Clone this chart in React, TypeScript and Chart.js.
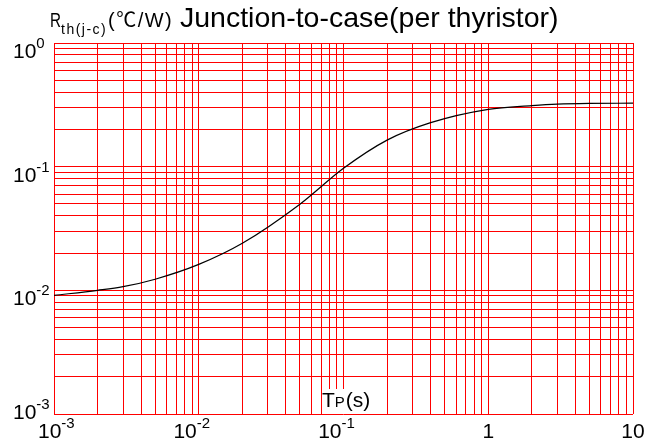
import React, { useEffect, useRef } from "react";
import { Chart, registerables } from "chart.js";
Chart.register(...registerables);

// ---- data ----
const tpSeconds = [0.001, 0.002, 0.003, 0.005, 0.01, 0.02, 0.05, 0.1, 0.2, 0.4, 1, 2, 3, 5, 10];
const rthValues = [0.0091, 0.0100, 0.0107, 0.0123, 0.0162, 0.024, 0.0497, 0.097, 0.164, 0.227, 0.291, 0.312, 0.321, 0.325, 0.326];

const xTickValues = [0.001, 0.01, 0.1, 1, 10];
const xTickBases = ["10", "10", "10", "1", "10"];
const xTickExps = ["-3", "-2", "-1", "", ""];

const yTickValues = [1, 0.1, 0.01, 0.001];
const yTickBases = ["10", "10", "10", "10"];
const yTickExps = ["0", "-1", "-2", "-3"];

const gridMultipliers = [1, 2, 3, 4, 5, 6, 7, 8, 9];

const titleSymbol = "R";
const titleSub = "th(j-c)";
const titleUnit = "(\u2103/W)";
const titleMain = "Junction-to-case(per thyristor)";
const xAxisMain = "T";
const xAxisSub = "P";
const xAxisUnit = "(s)";

const FONT = '"Liberation Sans", Arial, "Noto Sans CJK SC", sans-serif';

function logTicks(minExp: number, maxExp: number) {
  const out: { value: number }[] = [];
  for (let e = minExp; e < maxExp; e++) {
    for (const m of gridMultipliers) {
      out.push({ value: parseFloat((m * Math.pow(10, e)).toPrecision(4)) });
    }
  }
  out.push({ value: parseFloat(Math.pow(10, maxExp).toPrecision(4)) });
  return out;
}

const textPlugin = {
  id: "textPlugin",
  afterDraw(chart: any) {
    const ctx: CanvasRenderingContext2D = chart.ctx;
    const xs = chart.scales.x;
    const ys = chart.scales.y;
    ctx.save();
    ctx.fillStyle = "#000";
    ctx.textBaseline = "alphabetic";
    ctx.textAlign = "left";

    // x tick labels
    const xBaseline = 438;
    xTickValues.forEach((v, i) => {
      const px = xs.getPixelForValue(v);
      const base = xTickBases[i];
      const exp = xTickExps[i];
      ctx.font = `21px ${FONT}`;
      const bw = ctx.measureText(base).width;
      if (!exp) {
        ctx.textAlign = "center";
        ctx.fillText(base, px, xBaseline);
        ctx.textAlign = "left";
      } else {
        let left = px - 2 - bw;
        if (left < 38) left = 38;
        ctx.fillText(base, left, xBaseline);
        ctx.font = `15px ${FONT}`;
        ctx.fillText(exp, left + bw, xBaseline - 10);
      }
    });

    // y tick labels
    yTickValues.forEach((v, i) => {
      const py = ys.getPixelForValue(v);
      const last = i === yTickValues.length - 1;
      const bl = last ? py + 5 : py + 15;
      ctx.font = `21px ${FONT}`;
      const bw = ctx.measureText(yTickBases[i]).width;
      ctx.fillText(yTickBases[i], 13, bl);
      ctx.font = `15px ${FONT}`;
      ctx.fillText(yTickExps[i], 13 + bw, bl - 10);
    });

    // title
    ctx.font = `20px ${FONT}`;
    ctx.fillText(titleSymbol, 50, 27, 11);
    ctx.font = `14px ${FONT}`;
    (ctx as any).letterSpacing = "1.5px";
    ctx.fillText(titleSub, 61, 34);
    (ctx as any).letterSpacing = "1.5px";
    ctx.font = `20px ${FONT}`;
    ctx.fillText(titleUnit, 108, 27, 66);
    (ctx as any).letterSpacing = "0px";
    ctx.font = `28.5px ${FONT}`;
    ctx.fillText(titleMain, 180, 27, 381);

    // x axis title with white background
    ctx.fillStyle = "#fff";
    ctx.fillRect(322, 389, 54, 25);
    ctx.fillStyle = "#000";
    ctx.font = `21px ${FONT}`;
    ctx.fillText(xAxisMain, 322, 407);
    const tw = ctx.measureText(xAxisMain).width;
    ctx.font = `15px ${FONT}`;
    ctx.fillText(xAxisSub, 322 + tw, 407);
    const pw = ctx.measureText(xAxisSub).width;
    ctx.font = `21px ${FONT}`;
    ctx.fillText(xAxisUnit, 322 + tw + pw + 1, 407);

    ctx.restore();
  },
};

export default function App() {
  const ref = useRef<HTMLCanvasElement>(null);
  useEffect(() => {
    if (!ref.current) return;
    const chart = new Chart(ref.current, {
      type: "line",
      data: {
        datasets: [
          {
            data: tpSeconds.map((x, i) => ({ x, y: rthValues[i] })),
            borderColor: "#000",
            borderWidth: 1.2,
            pointRadius: 0,
            fill: false,
            cubicInterpolationMode: "monotone",
          },
        ],
      },
      options: {
        animation: false,
        responsive: false,
        devicePixelRatio: 1,
        events: [],
        layout: { padding: { left: 54, right: 31, top: 43, bottom: 29 } },
        plugins: { legend: { display: false }, tooltip: { enabled: false }, title: { display: false } },
        scales: {
          x: {
            type: "logarithmic",
            min: 0.001,
            max: 10,
            afterBuildTicks: (s: any) => { s.ticks = logTicks(-3, 1); },
            ticks: { display: false, autoSkip: false },
            grid: { color: "#ff0000", lineWidth: 1, drawTicks: false },
            border: { display: false },
          },
          y: {
            type: "logarithmic",
            min: 0.001,
            max: 1,
            afterBuildTicks: (s: any) => { s.ticks = logTicks(-3, 0); },
            ticks: { display: false, autoSkip: false },
            grid: { color: "#ff0000", lineWidth: 1, drawTicks: false },
            border: { display: false },
          },
        },
      },
      plugins: [textPlugin],
    } as any);
    return () => chart.destroy();
  }, []);
  return (
    <div style={{ position: "absolute", left: 0, top: 0, width: 664, height: 443, background: "#fff" }}>
      <canvas ref={ref} width={664} height={443} style={{ display: "block" }} />
    </div>
  );
}
